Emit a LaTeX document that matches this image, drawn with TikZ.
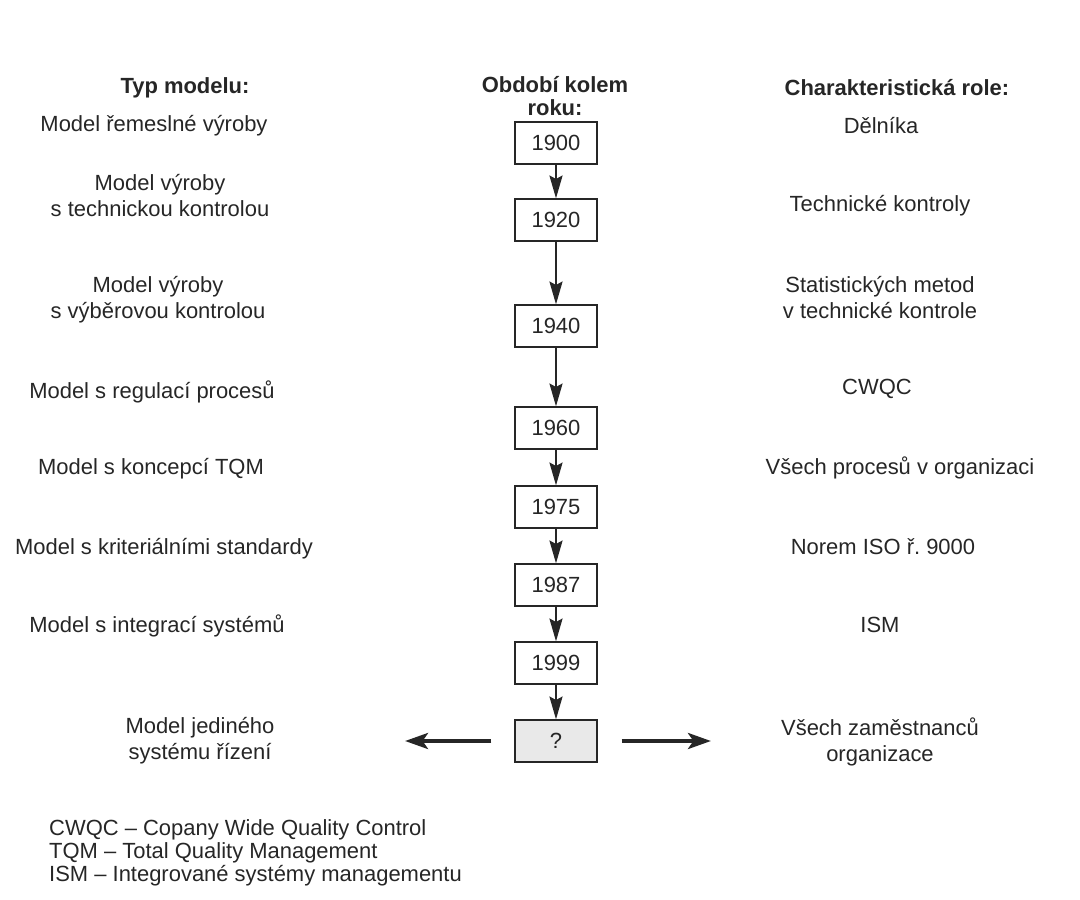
\documentclass[tikz,border=0pt]{standalone}
\usepackage{fontspec}
\setmainfont{Liberation Sans}
\usetikzlibrary{arrows.meta}
\definecolor{ink}{HTML}{262626}
\definecolor{boxfill}{HTML}{E9E9E9}
\begin{document}
\begin{tikzpicture}[x=0.02cm,y=-0.02cm,
  every node/.style={text=ink, font=\fontsize{12.5}{14.8}\selectfont},
  head/.style={font=\fontsize{12.5}{13.6}\selectfont\bfseries, align=center},
  lbl/.style={align=center},
  yearbox/.style={draw=ink, line width=0.8pt, minimum width=82*0.02cm, minimum height=42*0.02cm, inner sep=0pt},
  flow/.style={draw=ink, line width=0.8pt, -{Stealth[length=13pt,width=7.5pt,inset=2pt]}},
  wide/.style={draw=ink, line width=2.8pt, -{Stealth[length=13pt,width=9pt,inset=3pt]}}]
\useasboundingbox (0,0) rectangle (1080,900);

% column headings
\node[head] (h1) at (185,88) {Typ modelu:};
\node[head] (h2) at (555,96) {Období kolem\\roku:};
\node[head] (h3) at (897,88) {Charakteristická role:};

% year boxes
\node[yearbox] (y1) at (556,143) {1900};
\node[yearbox] (y2) at (556,220) {1920};
\node[yearbox] (y3) at (556,326) {1940};
\node[yearbox] (y4) at (556,428) {1960};
\node[yearbox] (y5) at (556,507) {1975};
\node[yearbox] (y6) at (556,585) {1987};
\node[yearbox] (y7) at (556,663) {1999};
\node[yearbox, fill=boxfill] (y8) at (556,741) {?};

\draw[flow] (y1) -- (y2);
\draw[flow] (y2) -- (y3);
\draw[flow] (y3) -- (y4);
\draw[flow] (y4) -- (y5);
\draw[flow] (y5) -- (y6);
\draw[flow] (y6) -- (y7);
\draw[flow] (y7) -- (y8);

% model types
\node[lbl] (m1) at (154,126) {Model řemeslné výroby};
\node[lbl] (m2) at (160,196) {Model výroby\\s technickou kontrolou};
\node[lbl] (m3) at (158,300) {Model výroby\\s výběrovou kontrolou};
\node[lbl] (m4) at (152,392) {Model s regulací procesů};
\node[lbl] (m5) at (151,469) {Model s koncepcí TQM};
\node[lbl] (m6) at (164,549) {Model s kriteriálními standardy};
\node[lbl] (m7) at (157,626) {Model s integrací systémů};
\node[lbl] (m8) at (200,741) {Model jediného\\systému řízení};

% characteristic roles
\node[lbl] (r1) at (881,126) {Dělníka};
\node[lbl] (r2) at (880,206) {Technické kontroly};
\node[lbl] (r3) at (880,298) {Statistických metod\\v technické kontrole};
\node[lbl] (r4) at (877,389) {CWQC};
\node[lbl] (r5) at (900,468) {Všech procesů v organizaci};
\node[lbl] (r6) at (883,547) {Norem ISO ř.\ 9000};
\node[lbl] (r7) at (880,625) {ISM};
\node[lbl] (r8) at (880,742) {Všech zaměstnanců\\organizace};

% side arrows from the last box
\coordinate (la) at (405,741);
\coordinate (ra) at (711,741);
\draw[wide] ([xshift=-23*0.02cm]y8.west) -- (la);
\draw[wide] ([xshift=24*0.02cm]y8.east) -- (ra);

% abbreviations
\node[anchor=west, align=left, font=\fontsize{12.5}{13.2}\selectfont] (note) at (43,853) {CWQC – Copany Wide Quality Control\\TQM – Total Quality Management\\ISM – Integrované systémy managementu};
\end{tikzpicture}
\end{document}
